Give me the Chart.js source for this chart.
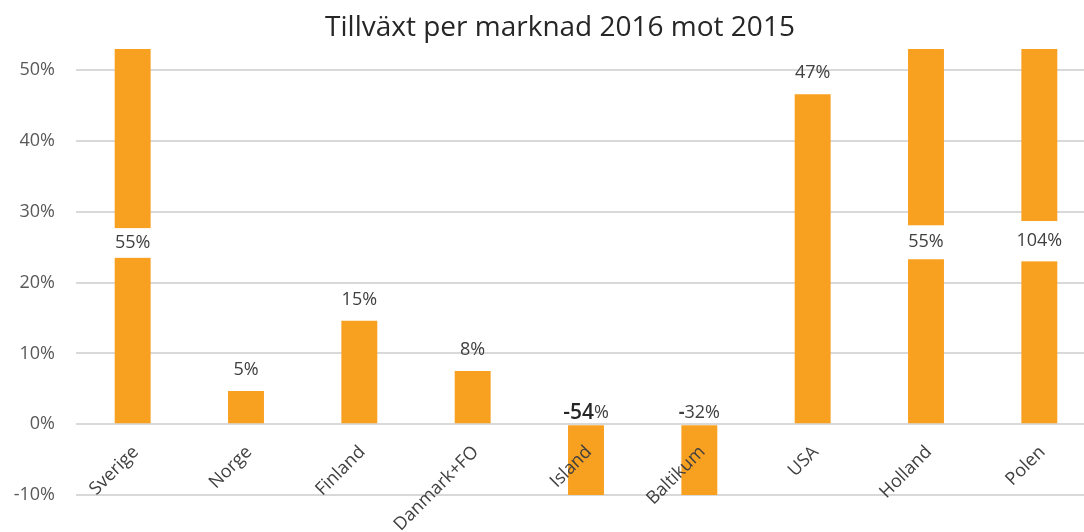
<!DOCTYPE html>
<html>
<head>
<meta charset="utf-8">
<script src="https://cdn.jsdelivr.net/npm/chart.js@4"></script>
<style>
  html, body { margin: 0; padding: 0; background: #ffffff; overflow: hidden; }
  #wrap { position: relative; width: 1096px; height: 532px; }
</style>
</head>
<body>
<div id="wrap"><canvas id="c"></canvas></div>
<script>
// ---- data ----
const chartTitle = 'Tillväxt per marknad 2016 mot 2015';
const categories = ['Sverige', 'Norge', 'Finland', 'Danmark+FO', 'Island', 'Baltikum', 'USA', 'Holland', 'Polen'];
const growth = [55, 4.7, 14.6, 7.5, -54, -32, 46.6, 55, 104];
// axis-break band (in % units) for bars that run off the top of the scale
const breakLow  = [23.5, null, null, null, null, null, null, 23.3, 23.0];
const breakHigh = [27.7, null, null, null, null, null, null, 28.1, 28.7];
const yTicks = [-10, 0, 10, 20, 30, 40, 50];
const yMin = -10, yMax = 53;

const FONT = "'Open Sans', 'Liberation Sans', sans-serif";
const BAR = '#F8A020';
const TXT = '#404040';
const FS = 18;

const labelsPlugin = {
  id: 'customLabels',
  afterDatasetsDraw(chart) {
    const ctx = chart.ctx;
    const ys = chart.scales.y;
    const meta = chart.getDatasetMeta(0);
    const y0 = ys.getPixelForValue(0);
    ctx.save();
    meta.data.forEach((bar, i) => {
      const v = growth[i];
      const txt = Math.round(v) + '%';
      ctx.fillStyle = TXT;
      ctx.textAlign = 'center';
      ctx.textBaseline = 'middle';
      ctx.font = FS + 'px ' + FONT;
      if (breakLow[i] !== null) {
        const yTop = ys.getPixelForValue(breakHigh[i]);
        const yBot = ys.getPixelForValue(breakLow[i]);
        ctx.fillStyle = '#ffffff';
        ctx.fillRect(bar.x - bar.width / 2 - 2, yTop, bar.width + 4, yBot - yTop);
        ctx.fillStyle = TXT;
        ctx.fillText(txt, bar.x, (yTop + yBot) / 2);
      } else if (v >= 0) {
        ctx.fillText(txt, bar.x, bar.y - 21);
      } else {
        // negative labels sit just above the zero line
        const yy = y0 - 11;
        const num = String(Math.round(v));
        if (i === 4) {
          ctx.font = '600 21px ' + FONT;
          const w1 = ctx.measureText(num).width;
          ctx.font = FS + 'px ' + FONT;
          const w2 = ctx.measureText('%').width;
          const sx = bar.x - (w1 + w2) / 2;
          ctx.textAlign = 'left';
          ctx.font = '600 21px ' + FONT;
          ctx.fillStyle = '#262626';
          ctx.fillText(num, sx, yy);
          ctx.font = FS + 'px ' + FONT;
          ctx.fillStyle = TXT;
          ctx.fillText('%', sx + w1, yy);
        } else {
          ctx.font = 'bold ' + FS + 'px ' + FONT;
          const w1 = ctx.measureText('-').width;
          ctx.font = FS + 'px ' + FONT;
          const rest = num.slice(1) + '%';
          const w2 = ctx.measureText(rest).width;
          const sx = bar.x - (w1 + w2) / 2;
          ctx.textAlign = 'left';
          ctx.font = 'bold ' + FS + 'px ' + FONT;
          ctx.fillText('-', sx, yy);
          ctx.font = FS + 'px ' + FONT;
          ctx.fillText(rest, sx + w1, yy);
        }
      }
    });
    ctx.restore();
  },
  afterDraw(chart) {
    const ctx = chart.ctx;
    const xs = chart.scales.x, ys = chart.scales.y;
    const y0 = ys.getPixelForValue(0);
    ctx.save();
    // title
    ctx.fillStyle = '#262626';
    ctx.font = '28px ' + FONT;
    ctx.textAlign = 'center';
    ctx.textBaseline = 'middle';
    ctx.fillText(chartTitle, 560, 28);
    // category labels
    ctx.fillStyle = TXT;
    ctx.font = FS + 'px ' + FONT;
    ctx.textAlign = 'right';
    ctx.textBaseline = 'middle';
    categories.forEach((c, i) => {
      const x = xs.getPixelForValue(i);
      ctx.save();
      ctx.translate(x + 3, y0 + 25);
      ctx.rotate(-Math.PI / 4);
      ctx.fillText(c, 0, 0);
      ctx.restore();
    });
    ctx.restore();
  }
};

new Chart(document.getElementById('c'), {
  type: 'bar',
  data: {
    labels: categories,
    datasets: [{
      data: growth,
      backgroundColor: BAR,
      borderWidth: 0,
      categoryPercentage: 1,
      barPercentage: 0.317
    }]
  },
  options: {
    responsive: true,
    maintainAspectRatio: false,
    animation: false,
    devicePixelRatio: 1,
    layout: { padding: { left: 0, right: 0, top: 49, bottom: 37 } },
    plugins: {
      legend: { display: false },
      tooltip: { enabled: false },
      title: { display: false }
    },
    scales: {
      x: {
        display: false
      },
      y: {
        min: yMin,
        max: yMax,
        border: { display: false },
        grid: { color: '#d9d9d9', lineWidth: 2, drawTicks: false },
        afterBuildTicks(scale) { scale.ticks = yTicks.map(v => ({ value: v })); },
        afterFit(scale) { scale.width = 76; },
        ticks: {
          padding: 21,
          color: '#595959',
          font: { family: FONT, size: FS },
          callback: v => v + '%'
        }
      }
    }
  },
  plugins: [labelsPlugin]
});
</script>
</body>
</html>
